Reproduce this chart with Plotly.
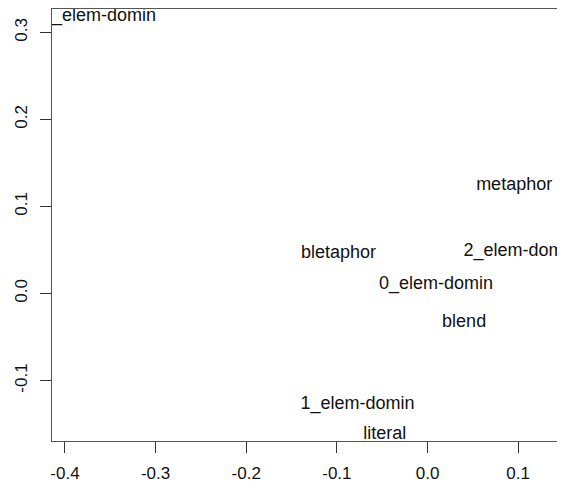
import plotly.graph_objects as go

labels = ["3_elem-domin", "metaphor", "bletaphor", "2_elem-domin", "0_elem-domin",
          "blend", "1_elem-domin", "literal"]
dim1 = [-0.3625, 0.0956, -0.0983, 0.1025, 0.0093, 0.0404, -0.0773, -0.0471]
dim2 = [0.318, 0.1236, 0.0465, 0.048, 0.0109, -0.0336, -0.128, -0.1615]

x_ticks = [-0.4, -0.3, -0.2, -0.1, 0.0, 0.1]
x_ticklabels = ["-0.4", "-0.3", "-0.2", "-0.1", "0.0", "0.1"]
y_ticks = [-0.1, 0.0, 0.1, 0.2, 0.3]
y_ticklabels = ["-0.1", "0.0", "0.1", "0.2", "0.3"]

FONT = "Liberation Sans, Arial, sans-serif"

fig = go.Figure()
fig.add_trace(go.Scatter(
    x=dim1, y=dim2, text=labels, mode="text",
    textposition="middle center",
    textfont=dict(family=FONT, size=18, color="#111111"),
    cliponaxis=True, hoverinfo="skip", showlegend=False,
))

axis_common = dict(
    showgrid=False, zeroline=False, showline=True, linecolor="#555555", linewidth=1,
    ticks="outside", ticklen=11, tickcolor="#333333", tickwidth=1,
    tickfont=dict(family=FONT, size=17, color="#111111"),
    automargin=False,
)

fig.update_xaxes(range=[-0.4143, 0.1517], tickvals=x_ticks, ticktext=x_ticklabels,
                 mirror=True, ticklabelstandoff=6, **axis_common)
fig.update_yaxes(range=[-0.1695, 0.327], tickvals=y_ticks, ticktext=y_ticklabels,
                 tickangle=-90, ticklabelstandoff=6, **axis_common)

# the page adds an 8px body margin, so the figure is sized to fit the window
fig.update_layout(
    width=557, height=477,
    margin=dict(l=44, r=0, t=1, b=44),
    plot_bgcolor="white", paper_bgcolor="white",
)

fig.write_html("out.html")
